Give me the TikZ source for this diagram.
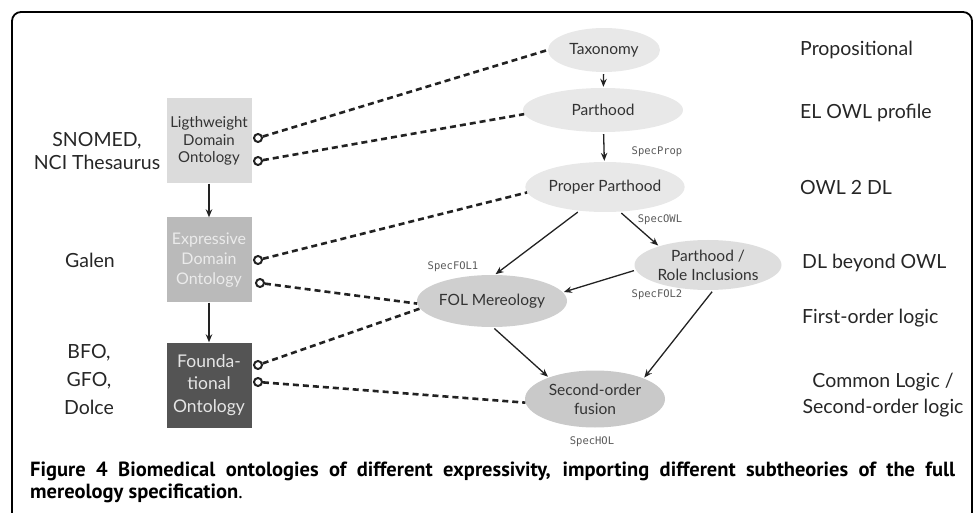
\documentclass[tikz,border=0pt]{standalone}
\usepackage{fontspec}
\setmainfont{Lato}
\newfontfamily\capfont{PT Sans}
\newfontfamily\specfont{DejaVu Sans Mono}
\usetikzlibrary{arrows.meta,positioning,shapes.geometric}
\definecolor{ink}{HTML}{222222}
\tikzset{
  ontobox/.style={minimum width=85pt,minimum height=85pt,inner sep=2pt,align=center},
  theory/.style={ellipse,inner sep=0pt,align=center,text=black!80,
                 font=\fontsize{15.5}{19}\selectfont},
  lang/.style={anchor=west,inner sep=0pt,text=black!85,font=\fontsize{19.5}{26}\selectfont},
  ontname/.style={align=center,inner sep=0pt,text=black!85},
  spec/.style={inner sep=0pt,text=black!65,font=\specfont\fontsize{10.5}{12}\selectfont},
  plug/.style={circle,draw=ink,line width=2pt,fill=white,inner sep=0pt,minimum size=8pt},
  imp/.style={ink,line width=2.6pt,dash pattern=on 6pt off 4pt},
  ext/.style={ink,line width=1.3pt,-{Stealth[length=8pt,width=6.5pt]},shorten <=2pt,shorten >=1pt},
}
\begin{document}
\begin{tikzpicture}[x=1pt,y=-1pt]
  \useasboundingbox (0,0) rectangle (978,513);
  \draw[line width=1.8pt,rounded corners=9pt] (12,513) -- (12,12) -- (972,12) -- (972,513);

  \node[theory,fill=black!9,minimum width=112pt,minimum height=44pt] (tax) at (604,50) {Taxonomy};
  \node[theory,fill=black!9,minimum width=160pt,minimum height=44pt] (part) at (603,110) {Parthood};
  \node[theory,fill=black!9,minimum width=145pt,minimum height=50pt] (ppart) at (605,187) {Proper Parthood};
  \node[theory,fill=black!13,minimum width=147pt,minimum height=50pt] (role) at (708,265) {Parthood /\\Role Inclusions};
  \node[theory,fill=black!19,minimum width=145pt,minimum height=52pt] (fol) at (492,301) {FOL Mereology};
  \node[theory,fill=black!21,minimum width=140pt,minimum height=57pt] (hol) at (595,399) {Second-order\\fusion};

  \node[ontobox,fill=black!14,text=black!80,font=\fontsize{15}{17.5}\selectfont] (light) at (209,141) {Ligthweight\\Domain\\Ontology};
  \node[ontobox,fill=black!27,text=white!92!black,font=\fontsize{16}{20}\selectfont] (expr) at (209,260) {Expressive\\Domain\\Ontology};
  \node[ontobox,fill=black!67,text=white!90!black,font=\fontsize{17.5}{22.5}\selectfont] (found) at (209,385) {Founda-\\tional\\Ontology};

  \node[ontname,font=\fontsize{19.5}{23}\selectfont] (snomed) at (97,151) {SNOMED,\\NCI Thesaurus};
  \node[ontname,font=\fontsize{19.5}{23}\selectfont] (galen) at (90,260) {Galen};
  \node[ontname,font=\fontsize{19.5}{28}\selectfont] (bfo) at (89,380) {BFO,\\GFO,\\Dolce};

  \node[lang] (l1) at (800,50) {Propositional};
  \node[lang] (l2) at (800,113) {EL OWL profile};
  \node[lang] (l3) at (800,188) {OWL 2 DL};
  \node[lang] (l4) at (802,263) {DL beyond OWL};
  \node[lang] (l5) at (802,318) {First-order logic};
  \node[lang,anchor=center,align=center] (l6) at (883,395) {Common Logic /\\Second-order logic};

  \node[spec] (sprop) at (657,152) {SpecProp};
  \node[spec] (sowl) at (660,220) {SpecOWL};
  \node[spec] (sfol1) at (453,267) {SpecFOL1};
  \node[spec] (sfol2) at (657,295) {SpecFOL2};
  \node[spec] (shol) at (592,442) {SpecHOL};

  \node[plug] (p1) at (258,138) {};
  \node[plug] (p2) at (258,161) {};
  \node[plug] (p3) at (258,260) {};
  \node[plug] (p4) at (260,283) {};
  \node[plug] (p5) at (258,365) {};
  \node[plug] (p6) at (258,382) {};

  \draw[imp] (p1) -- (tax.west);
  \draw[imp] (p2) -- (part.183);
  \draw[imp] (p3) -- (ppart.184);
  \draw[imp] (p4) -- (fol.182);
  \draw[imp] (p5) -- (fol.186);
  \draw[imp] (p6) -- (hol.183);

  \draw[ext] (tax) -- (part);
  \draw[ext] (part) -- (ppart);
  \draw[ext] (ppart.223) -- (fol.84);
  \draw[ext] (ppart.301) -- (role.159);
  \draw[ext] (role.184) -- (fol.7);
  \draw[ext] (fol.272) -- (hol.155);
  \draw[ext] (role.282) -- (hol.23);
  \draw[ext,shorten <=0pt,shorten >=0pt] (light) -- (expr);
  \draw[ext,shorten <=0pt,shorten >=0pt] (expr) -- (found);

  \node[anchor=north west,text width=925pt,align=justify,inner sep=0pt,
        font=\capfont\fontsize{20.5}{22}\selectfont] (cap) at (30,462)
    {\textbf{Figure 4 Biomedical ontologies of different expressivity, importing different subtheories of the full}\linebreak
     \textbf{mereology specification}.};
\end{tikzpicture}
\end{document}
